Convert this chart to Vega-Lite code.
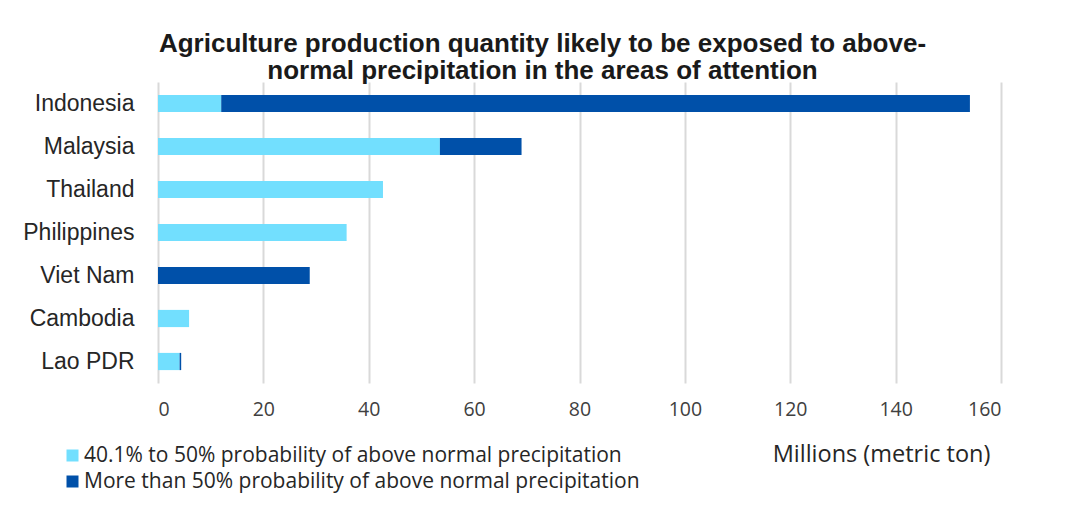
{
  "$schema": "https://vega.github.io/schema/vega-lite/v6.json",
  "width": 843,
  "height": 301,
  "autosize": {"type": "none"},
  "padding": {"left": 158, "top": 82, "right": 70, "bottom": 135},
  "background": "white",
  "title": {
    "text": ["Agriculture production quantity likely to be exposed to above-", "normal precipitation in the areas of attention"],
    "font": "Liberation Sans",
    "fontSize": 26,
    "fontWeight": "bold",
    "color": "#1a1a1a",
    "lineHeight": 27.5,
    "anchor": "middle",
    "frame": "group",
    "dx": -37,
    "offset": -2
  },
  "data": {
    "values": [
      {"country": "Indonesia", "category": "40.1% to 50% probability of above normal precipitation", "value": 12.0},
      {"country": "Indonesia", "category": "More than 50% probability of above normal precipitation", "value": 142.1},
      {"country": "Malaysia", "category": "40.1% to 50% probability of above normal precipitation", "value": 53.5},
      {"country": "Malaysia", "category": "More than 50% probability of above normal precipitation", "value": 15.5},
      {"country": "Thailand", "category": "40.1% to 50% probability of above normal precipitation", "value": 42.7},
      {"country": "Philippines", "category": "40.1% to 50% probability of above normal precipitation", "value": 35.8},
      {"country": "Viet Nam", "category": "More than 50% probability of above normal precipitation", "value": 28.8},
      {"country": "Cambodia", "category": "40.1% to 50% probability of above normal precipitation", "value": 5.9},
      {"country": "Lao PDR", "category": "40.1% to 50% probability of above normal precipitation", "value": 4.1},
      {"country": "Lao PDR", "category": "More than 50% probability of above normal precipitation", "value": 0.3}
    ]
  },
  "mark": {"type": "bar"},
  "encoding": {
    "y": {
      "field": "country",
      "type": "nominal",
      "sort": ["Indonesia", "Malaysia", "Thailand", "Philippines", "Viet Nam", "Cambodia", "Lao PDR"],
      "scale": {"paddingInner": 0.6, "paddingOuter": 0.3},
      "axis": {
        "title": null,
        "domain": false,
        "ticks": false,
        "grid": false,
        "labelFont": "Liberation Sans",
        "labelFontSize": 23,
        "labelColor": "#262626",
        "labelPadding": 24
      }
    },
    "x": {
      "field": "value",
      "type": "quantitative",
      "stack": "zero",
      "scale": {"domain": [0, 160], "nice": false},
      "axis": {
        "values": [0, 20, 40, 60, 80, 100, 120, 140, 160],
        "title": "Millions (metric ton)",
        "titleFont": "Open Sans",
        "titleFontSize": 23.5,
        "titleFontWeight": "normal",
        "titleColor": "#262626",
        "titleX": 723,
        "titleY": 71,
        "titleAlign": "center",
        "titleBaseline": "middle",
        "domain": false,
        "ticks": false,
        "grid": true,
        "gridColor": "#d9d9d9",
        "gridWidth": 2,
        "labelFont": "Open Sans",
        "labelFontSize": 19.5,
        "labelColor": "#404040",
        "labelPadding": 17
      }
    },
    "color": {
      "field": "category",
      "type": "nominal",
      "scale": {
        "domain": ["40.1% to 50% probability of above normal precipitation", "More than 50% probability of above normal precipitation"],
        "range": ["#72dffe", "#0050a9"]
      },
      "legend": {
        "title": null,
        "orient": "none",
        "legendX": -96,
        "legendY": 363,
        "symbolType": "square",
        "symbolSize": 144,
        "symbolStrokeWidth": 0,
        "labelFont": "Open Sans",
        "labelFontSize": 21,
        "labelColor": "#262626",
        "labelOffset": 1,
        "labelLimit": 700,
        "rowPadding": 4
      }
    }
  },
  "config": {
    "view": {"stroke": null}
  }
}
